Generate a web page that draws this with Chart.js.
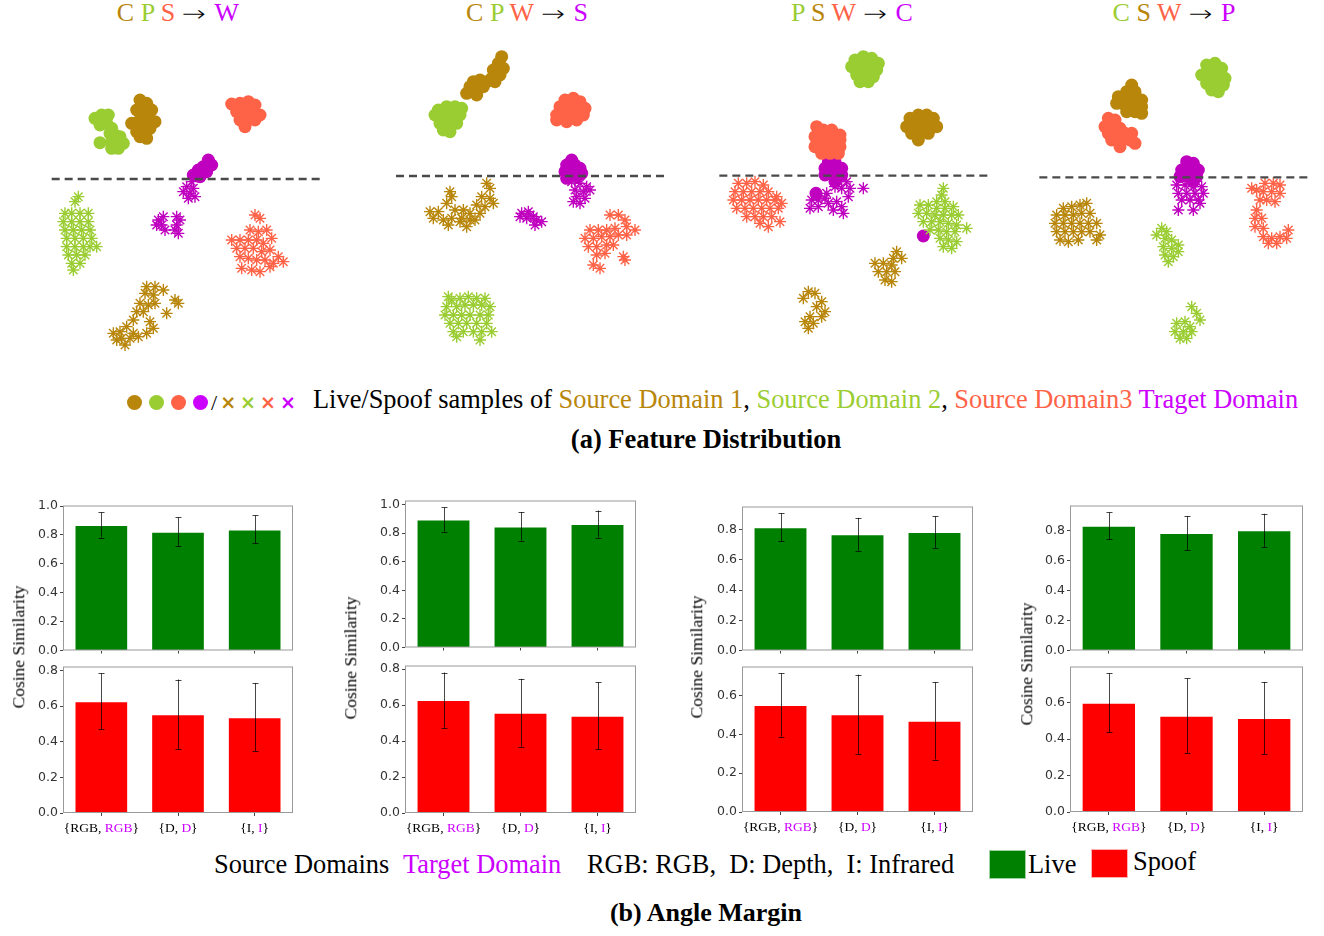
<!DOCTYPE html>
<html>
<head>
<meta charset="utf-8">
<script src="https://cdn.jsdelivr.net/npm/chart.js@4.4.1/dist/chart.umd.min.js"></script>
<style>
  html, body { margin: 0; padding: 0; background: #fff; }
  body { width: 1324px; height: 936px; position: relative; overflow: hidden; font-family: 'Liberation Serif', 'Times New Roman', serif; color: #000; }
  canvas { position: absolute; }
  .txt { position: absolute; white-space: nowrap; line-height: 1; }
  .ttl { font-size: 26px; transform: translateX(-50%); top: 0px; }
  .arr { font-family: 'DejaVu Sans'; font-size: 22px; font-weight: 200; display: inline-block; transform: scaleX(1.3); margin: 0 11px 0 10px; }
  .ylab { font-size: 17.5px; transform: translate(-50%, -50%) rotate(-90deg); }
  .dot { display: inline-block; width: 15px; height: 15px; border-radius: 50%; margin-right: 7px; vertical-align: middle; }
  .sq { position: absolute; width: 37px; height: 29px; box-sizing: border-box; }
  .lg { font-size: 26.4px; top: 851px; }
</style>
</head>
<body>

<!-- (a) titles -->
<div class="txt ttl" style="left:178px"><span style="color:#B8860B">C</span> <span style="color:#9ACD32">P</span> <span style="color:#FF6347">S</span><span class="arr">→</span><span style="color:#CC00FF">W</span></div>
<div class="txt ttl" style="left:527px"><span style="color:#B8860B">C</span> <span style="color:#9ACD32">P</span> <span style="color:#FF6347">W</span><span class="arr">→</span><span style="color:#CC00FF">S</span></div>
<div class="txt ttl" style="left:852px"><span style="color:#9ACD32">P</span> <span style="color:#B8860B">S</span> <span style="color:#FF6347">W</span><span class="arr">→</span><span style="color:#CC00FF">C</span></div>
<div class="txt ttl" style="left:1174px"><span style="color:#9ACD32">C</span> <span style="color:#B8860B">S</span> <span style="color:#FF6347">W</span><span class="arr">→</span><span style="color:#CC00FF">P</span></div>

<canvas id="scW"></canvas>
<canvas id="scS"></canvas>
<canvas id="scC"></canvas>
<canvas id="scP"></canvas>

<!-- (a) legend -->
<div class="txt" style="left:127px; top:390px; font-size:22px;">
  <span class="dot" style="background:#B8860B"></span><span class="dot" style="background:#9ACD32"></span><span class="dot" style="background:#FF6347"></span><span class="dot" style="background:#CC00FF;margin-right:3px"></span><span style="vertical-align:middle">/</span><span style="font-family:'DejaVu Sans';font-weight:bold;font-size:19px;vertical-align:middle;letter-spacing:4px;margin-left:3px"><span style="color:#B8860B">×</span><span style="color:#9ACD32">×</span><span style="color:#FF6347">×</span><span style="color:#CC00FF">×</span></span>
</div>
<div class="txt" style="left:313px; top:386px; font-size:26.4px;">Live/Spoof samples of <span style="color:#B8860B">Source Domain 1</span>, <span style="color:#9ACD32">Source Domain 2</span>, <span style="color:#FF6347">Source Domain3</span> <span style="color:#CC00FF">Traget Domain</span></div>
<div class="txt" style="left:706px; top:426px; font-size:26.5px; font-weight:bold; transform:translateX(-50%);">(a) Feature Distribution</div>

<!-- (b) bar charts -->
<canvas id="liveW"></canvas><canvas id="spoofW"></canvas>
<canvas id="liveS"></canvas><canvas id="spoofS"></canvas>
<canvas id="liveC"></canvas><canvas id="spoofC"></canvas>
<canvas id="liveP"></canvas><canvas id="spoofP"></canvas>

<div class="txt ylab" style="left:19px; top:647px;">Cosine Similarity</div>
<div class="txt ylab" style="left:351px; top:658px;">Cosine Similarity</div>
<div class="txt ylab" style="left:697px; top:657px;">Cosine Similarity</div>
<div class="txt ylab" style="left:1027px; top:664px;">Cosine Similarity</div>

<!-- (b) legend -->
<div class="txt lg" style="left:214px;">Source Domains</div>
<div class="txt lg" style="left:403px; color:#CC00FF">Target Domain</div>
<div class="txt lg" style="left:587px;">RGB: RGB,&nbsp; D: Depth,&nbsp; I: Infrared</div>
<div class="sq" style="left:989px; top:850px; background:#008000; border:1px solid #9fd09f"></div>
<div class="txt lg" style="left:1028px;">Live</div>
<div class="sq" style="left:1091px; top:849px; background:#FF0000; border:1px solid #ffb0b0"></div>
<div class="txt lg" style="left:1133px; top:848px;">Spoof</div>
<div class="txt" style="left:706px; top:900px; font-size:26px; font-weight:bold; transform:translateX(-50%);">(b) Angle Margin</div>

<script>
/* ----------- t-SNE embeddings (arbitrary units) ----------- */
// 1 = Source Domain 1 (gold), 2 = Source Domain 2 (green), 3 = Source Domain 3 (tomato), T = target
// C P S -> W
const w_live1 = [[300,300],[320,310],[290,330],[315,325],[310,335],[335,330],[275,370],[295,365],[320,360],[345,365],[290,395],[310,390],[330,385],[300,410],[320,415]];
const w_live2 = [[165,355],[185,345],[205,345],[180,375],[200,370],[215,385],[210,400],[225,405],[240,410],[215,425],[235,425],[250,430],[215,445],[235,445],[180,428]];
const w_live3 = [[600,310],[625,305],[645,315],[590,335],[615,335],[640,335],[660,345],[600,360],[625,360],[645,360],[615,380],[575,312]];
const w_liveT = [[505,480],[515,495],[490,500],[500,515],[475,510],[480,530],[460,525]];
const w_spoof1 = [[320,860],[345,860],[370,870],[315,880],[340,885],[300,910],[325,915],[345,910],[405,900],[415,910],[380,940],[290,935],[310,935],[280,960],[330,965],[340,985],[260,980],[240,995],[220,1000],[245,1015],[270,1015],[295,1010],[320,1000],[255,1035],[230,1020],[280,1000]];
const w_spoof2 = [[115,590],[105,605],[75,640],[95,640],[120,640],[145,640],[70,665],[95,665],[120,665],[145,665],[75,690],[100,690],[125,690],[150,690],[80,715],[105,715],[130,715],[155,715],[170,740],[80,740],[105,740],[130,740],[150,740],[85,765],[110,765],[135,765],[95,790],[120,790],[100,810]];
const w_spoof3 = [[645,645],[660,655],[630,690],[655,695],[680,690],[695,715],[575,720],[600,720],[625,720],[650,720],[670,730],[590,745],[615,745],[640,745],[665,755],[690,750],[715,770],[600,770],[625,775],[650,780],[675,780],[700,790],[730,785],[605,805],[635,810],[660,815],[690,800]];
const w_spoofT = [[455,545],[440,560],[460,565],[430,575],[450,580],[465,590],[445,595],[355,660],[370,650],[365,675],[375,690],[350,675],[410,650],[420,660],[410,675],[405,690],[415,700]];
const w_border = [[35,537],[845,537]];

// C P W -> S
const s_live1 = [[365,170],[355,190],[370,205],[340,210],[360,225],[335,235],[345,245],[320,245],[300,240],[280,245],[270,260],[290,265],[310,260],[260,280],[290,285]];
const s_live2 = [[175,330],[200,320],[225,320],[245,325],[165,345],[190,345],[215,345],[240,345],[180,370],[205,370],[230,370],[190,390],[210,395]];
const s_live3 = [[555,300],[580,295],[600,305],[540,320],[565,320],[590,320],[615,325],[530,345],[555,345],[580,345],[610,345],[530,360],[560,365],[590,360]];
const s_liveT = [[575,480],[560,495],[585,495],[600,505],[555,515],[580,515],[605,520],[560,535],[590,530]];
const s_spoof1 = [[320,550],[330,565],[210,575],[215,590],[305,590],[330,595],[340,610],[200,610],[290,615],[315,620],[150,635],[175,635],[225,630],[250,630],[270,640],[300,640],[160,655],[190,660],[215,655],[245,655],[270,660],[285,660],[205,675],[260,680],[240,665]];
const s_spoof2 = [[205,890],[215,900],[240,895],[265,890],[290,895],[315,895],[200,920],[230,920],[255,915],[280,915],[305,915],[330,920],[195,945],[220,945],[245,945],[270,945],[300,945],[325,945],[210,970],[235,970],[260,970],[290,970],[320,970],[220,995],[250,995],[280,995],[305,995],[335,995],[300,1020],[230,1010]];
const s_spoof3 = [[690,645],[715,645],[735,660],[740,680],[765,690],[630,690],[655,690],[680,690],[705,685],[615,715],[640,715],[665,710],[690,710],[715,705],[740,705],[625,740],[650,740],[680,735],[700,735],[650,765],[675,760],[730,770],[735,780],[640,795],[660,805]];
const s_spoofT = [[575,545],[600,550],[620,560],[585,570],[610,575],[630,570],[590,590],[615,595],[580,605],[600,610],[425,640],[445,635],[460,650],[440,655],[420,650],[470,660],[485,665],[465,675],[450,645]];
const s_border = [[48,528],[860,528]];

// P S W -> C
const c_live1 = [[600,355],[625,345],[650,345],[670,355],[590,380],[615,375],[640,375],[665,375],[680,380],[605,400],[630,400],[655,400],[625,420]];
const c_live2 = [[435,180],[460,170],[485,175],[505,190],[425,200],[450,200],[475,200],[500,210],[440,225],[465,225],[490,230],[450,245],[475,245]];
const c_live3 = [[320,380],[340,390],[365,390],[390,405],[315,410],[340,415],[365,415],[390,420],[315,440],[340,440],[365,440],[390,440],[335,460],[360,460],[385,460]];
const c_liveT = [[355,485],[375,485],[345,505],[370,505],[395,505],[345,525],[370,525],[395,525],[375,545],[318,580],[640,708]];
const c_spoof1 = [[560,755],[575,775],[550,775],[495,790],[520,790],[545,795],[505,815],[530,815],[555,815],[525,840],[545,845],[295,875],[315,880],[280,895],[335,905],[320,920],[345,935],[335,950],[300,950],[285,965],[310,970],[295,985]];
const c_spoof2 = [[700,565],[695,585],[680,605],[705,605],[630,615],[655,615],[680,625],[705,625],[730,620],[625,640],[650,640],[675,645],[700,645],[725,645],[745,645],[640,665],[665,665],[690,665],[715,670],[740,675],[770,685],[660,690],[685,690],[710,695],[735,695],[690,715],[715,720],[740,725],[700,740],[725,745]];
const c_spoof3 = [[85,550],[110,550],[135,545],[160,555],[75,575],[100,575],[125,575],[150,575],[175,575],[200,590],[70,600],[95,600],[120,600],[145,600],[170,600],[195,600],[215,610],[80,625],[105,625],[130,625],[155,625],[180,625],[205,625],[110,650],[135,650],[160,650],[185,650],[210,665],[150,670],[175,680]];
const c_spoofT = [[385,545],[410,545],[420,565],[395,565],[375,560],[460,565],[350,580],[345,595],[305,600],[325,600],[355,610],[380,605],[395,620],[400,640],[300,625],[325,620],[370,630],[415,590]];
const c_border = [[28,527],[835,527]];

// C S W -> P
const p_live1 = [[305,255],[290,275],[315,275],[265,290],[290,295],[315,295],[335,300],[260,310],[285,315],[310,315],[335,320],[290,335],[315,335],[335,340]];
const p_live2 = [[530,195],[555,190],[575,205],[515,225],[540,220],[565,225],[585,235],[530,250],[555,250],[580,255],[545,270],[565,275]];
const p_live3 = [[235,355],[255,360],[225,380],[250,380],[270,385],[235,400],[260,400],[285,400],[305,400],[245,420],[275,420],[300,420],[315,430],[270,440]];
const p_liveT = [[470,485],[490,490],[455,510],[480,510],[505,510],[450,530],[475,530],[500,530],[490,545]];
const p_spoof1 = [[100,625],[125,620],[150,615],[170,610],[80,645],[105,645],[130,645],[155,640],[180,640],[75,670],[100,670],[125,670],[150,670],[175,670],[200,670],[80,695],[105,695],[130,695],[155,695],[180,695],[210,705],[200,720],[90,720],[115,725],[145,720]];
const p_spoof2 = [[395,685],[410,695],[380,705],[405,715],[425,720],[445,735],[400,740],[425,745],[445,755],[405,765],[430,770],[415,785],[485,920],[500,940],[510,960],[440,970],[465,965],[480,980],[435,995],[460,995],[485,995],[450,1015],[470,1015]];
const p_spoof3 = [[665,565],[680,570],[705,550],[730,550],[750,555],[700,575],[725,575],[750,580],[710,600],[735,605],[690,600],[680,630],[675,655],[695,655],[675,680],[700,685],[700,710],[725,715],[750,710],[775,690],[770,715],[740,730],[715,730]];
const p_spoofT = [[440,555],[465,555],[490,560],[515,560],[445,580],[470,580],[495,580],[520,580],[455,600],[480,600],[505,600],[445,630],[490,630],[510,610]];
const p_border = [[28,532],[835,532]];

/* ----------- Cosine similarity (mean, std) per modality pair ----------- */
const srcModalities = ['RGB', 'D', 'I'];
const tgtModalities = ['RGB', 'D', 'I'];

const liveMeanW = [0.869, 0.822, 0.838];   const liveStdW = [0.087, 0.099, 0.097];
const spoofMeanW = [0.628, 0.555, 0.538];  const spoofStdW = [0.156, 0.195, 0.192];
const liveMeanS = [0.895, 0.847, 0.863];   const liveStdS = [0.084, 0.100, 0.095];
const spoofMeanS = [0.628, 0.557, 0.541];  const spoofStdS = [0.153, 0.189, 0.186];
const liveMeanC = [0.815, 0.768, 0.783];   const liveStdC = [0.092, 0.109, 0.104];
const spoofMeanC = [0.550, 0.503, 0.469];  const spoofStdC = [0.163, 0.204, 0.199];
const liveMeanP = [0.834, 0.786, 0.804];   const liveStdP = [0.090, 0.114, 0.111];
const spoofMeanP = [0.600, 0.529, 0.516];  const spoofStdP = [0.161, 0.205, 0.198];

/* ----------- Colours ----------- */
const GOLD = '#B8860B', GREEN = '#9ACD32', TOMATO = '#FF6347', PURPLE = '#BF00BF', TARGET = '#CC00FF';

/* ----------- Scatter (feature distribution) ----------- */
const toXY = arr => arr.map(p => ({x: p[0], y: p[1]}));

function scatterChart(id, left, sets) {
    const cv = document.getElementById(id);
    cv.width = 300; cv.height = 360;
    cv.style.left = left + 'px'; cv.style.top = '0px';
    const dots = (d, c) => ({data: toXY(d), backgroundColor: c, borderColor: c, pointStyle: 'circle', pointRadius: 6.5, borderWidth: 0, order: 1});
    const xs = (d, c) => ({data: toXY(d), backgroundColor: c, borderColor: c, pointStyle: 'star', pointRadius: 6, borderWidth: 1.4, order: 1});
    return new Chart(cv, {
        type: 'scatter',
        data: {
            datasets: [
                {type: 'line', data: toXY(sets.border), borderColor: '#4a4a4a', borderWidth: 2.3, borderDash: [8, 5], pointRadius: 0, order: 0},
                dots(sets.live1, GOLD), dots(sets.live2, GREEN), dots(sets.live3, TOMATO),
                xs(sets.spoof1, GOLD), xs(sets.spoof2, GREEN), xs(sets.spoof3, TOMATO),
                xs(sets.spoofT, PURPLE), dots(sets.liveT, PURPLE)
            ]
        },
        options: {
            responsive: false, animation: false,
            layout: {padding: 0, autoPadding: false},
            plugins: {legend: {display: false}, tooltip: {enabled: false}},
            scales: {
                x: {type: 'linear', min: 0, max: 900, display: false},
                y: {type: 'linear', min: 0, max: 1080, reverse: true, display: false}
            }
        }
    });
}

scatterChart('scW', 40, {live1: w_live1, live2: w_live2, live3: w_live3, liveT: w_liveT, spoof1: w_spoof1, spoof2: w_spoof2, spoof3: w_spoof3, spoofT: w_spoofT, border: w_border});
scatterChart('scS', 380, {live1: s_live1, live2: s_live2, live3: s_live3, liveT: s_liveT, spoof1: s_spoof1, spoof2: s_spoof2, spoof3: s_spoof3, spoofT: s_spoofT, border: s_border});
scatterChart('scC', 710, {live1: c_live1, live2: c_live2, live3: c_live3, liveT: c_liveT, spoof1: c_spoof1, spoof2: c_spoof2, spoof3: c_spoof3, spoofT: c_spoofT, border: c_border});
scatterChart('scP', 1030, {live1: p_live1, live2: p_live2, live3: p_live3, liveT: p_liveT, spoof1: p_spoof1, spoof2: p_spoof2, spoof3: p_spoof3, spoofT: p_spoofT, border: p_border});

/* ----------- Bar chart plugins ----------- */
const boxPlugin = {
    id: 'box',
    afterDraw(chart) {
        const a = chart.chartArea, ctx = chart.ctx;
        ctx.save();
        ctx.strokeStyle = '#9a9a9a'; ctx.lineWidth = 1;
        ctx.strokeRect(a.left + 0.5, a.top + 0.5, a.right - a.left - 1, a.bottom - a.top - 1);
        ctx.restore();
    }
};

const errPlugin = {
    id: 'errbars',
    afterDatasetsDraw(chart) {
        const ctx = chart.ctx, ys = chart.scales.y;
        chart.data.datasets.forEach((ds, di) => {
            chart.getDatasetMeta(di).data.forEach((bar, i) => {
                const top = ys.getPixelForValue(ds.data[i] + ds.errors[i]);
                const bot = ys.getPixelForValue(ds.data[i] - ds.errors[i]);
                const x = Math.round(bar.x) + 0.5;
                ctx.save();
                ctx.strokeStyle = 'rgba(0,0,0,0.72)'; ctx.lineWidth = 1;
                ctx.beginPath();
                ctx.moveTo(x, top); ctx.lineTo(x, bot);
                ctx.moveTo(x - 3, Math.round(top) + 0.5); ctx.lineTo(x + 3, Math.round(top) + 0.5);
                ctx.moveTo(x - 3, Math.round(bot) + 0.5); ctx.lineTo(x + 3, Math.round(bot) + 0.5);
                ctx.stroke();
                ctx.restore();
            });
        });
    }
};

// {source, target} tick labels, target part in magenta
const pairLabelPlugin = {
    id: 'pairLabels',
    afterDraw(chart) {
        if (!chart.options.plugins.pairLabels.show) return;
        const ctx = chart.ctx, xs = chart.scales.x;
        const y = chart.chartArea.bottom + 15;
        ctx.save();
        ctx.font = '13.5px "Liberation Serif"';
        ctx.textBaseline = 'middle';
        srcModalities.forEach((src, i) => {
            const parts = [['{' + src + ', ', '#000'], [tgtModalities[i], TARGET], ['}', '#000']];
            const total = parts.reduce((s, p) => s + ctx.measureText(p[0]).width, 0);
            let x = xs.getPixelForTick(i) - total / 2;
            parts.forEach(p => {
                ctx.fillStyle = p[1];
                ctx.fillText(p[0], x, y);
                x += ctx.measureText(p[0]).width;
            });
        });
        ctx.restore();
    }
};

/* ----------- Bar charts (angle margin) ----------- */
function barChart(id, box, means, stds, color, showLabels) {
    const yW = 46, pad = 7, xH = showLabels ? 30 : 8;
    const w = box.right - box.left, h = box.bottom - box.top;
    const cv = document.getElementById(id);
    cv.width = yW + w + pad; cv.height = pad + h + xH;
    cv.style.left = (box.left - yW) + 'px'; cv.style.top = (box.top - pad) + 'px';
    const ymax = Math.max(...means.map((m, i) => m + stds[i])) * 1.05;
    return new Chart(cv, {
        type: 'bar',
        data: {
            labels: srcModalities.map((s, i) => '{' + s + ', ' + tgtModalities[i] + '}'),
            datasets: [{data: means, errors: stds, backgroundColor: color, borderColor: 'rgba(255,255,255,0.45)', borderWidth: 1, categoryPercentage: 1, barPercentage: 0.7}]
        },
        options: {
            responsive: false, animation: false,
            layout: {padding: {top: pad, right: pad, left: 0, bottom: 0}, autoPadding: false},
            plugins: {legend: {display: false}, tooltip: {enabled: false}, pairLabels: {show: showLabels}},
            scales: {
                x: {
                    grid: {drawOnChartArea: false, offset: false, tickLength: 3, color: '#444'},
                    border: {display: false},
                    ticks: {callback: () => '', font: {size: 11}},
                    afterFit: s => { s.height = xH; }
                },
                y: {
                    min: 0, max: ymax,
                    grid: {drawOnChartArea: false, tickLength: 3, color: '#444'},
                    border: {display: false},
                    ticks: {stepSize: 0.2, includeBounds: false, callback: v => v.toFixed(1), color: '#333', padding: 2, font: {family: 'DejaVu Sans', size: 12.5}},
                    afterFit: s => { s.width = yW; }
                }
            }
        },
        plugins: [boxPlugin, errPlugin, pairLabelPlugin]
    });
}

// plot frames on the page
const frameW = {left: 63, right: 293, top1: 503, bot1: 652, top2: 664, bot2: 813};
const frameS = {left: 405, right: 636, top1: 498, bot1: 649, top2: 663, bot2: 813};
const frameC = {left: 742, right: 973, top1: 504, bot1: 652, top2: 664, bot2: 812};
const frameP = {left: 1070, right: 1303, top1: 503, bot1: 652, top2: 664, bot2: 812};

function pair(f, liveId, spoofId, lm, ls, sm, ss) {
    barChart(liveId, {left: f.left, right: f.right, top: f.top1, bottom: f.bot1}, lm, ls, '#008000', false);
    barChart(spoofId, {left: f.left, right: f.right, top: f.top2, bottom: f.bot2}, sm, ss, '#FF0000', true);
}

pair(frameW, 'liveW', 'spoofW', liveMeanW, liveStdW, spoofMeanW, spoofStdW);
pair(frameS, 'liveS', 'spoofS', liveMeanS, liveStdS, spoofMeanS, spoofStdS);
pair(frameC, 'liveC', 'spoofC', liveMeanC, liveStdC, spoofMeanC, spoofStdC);
pair(frameP, 'liveP', 'spoofP', liveMeanP, liveStdP, spoofMeanP, spoofStdP);
</script>
</body>
</html>
